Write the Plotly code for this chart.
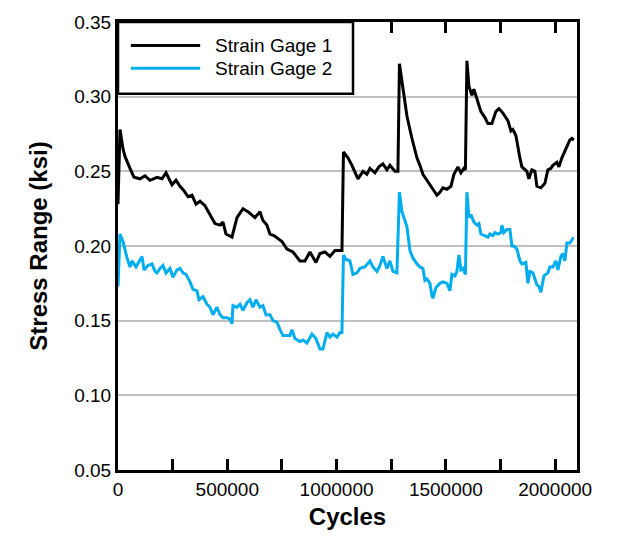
import plotly.graph_objects as go

# ---- data ----
cycles_g1 = [0, 9100, 22900, 32000, 54900, 73200, 100600, 123500, 146400, 178400,
             201300, 219600, 247000, 265300, 283600, 301900, 320200, 338500, 356800, 375100,
             397900, 420800, 443700, 466600, 480300, 494000, 521400, 544300, 571800, 594600,
             612900, 626600, 649500, 663200, 681100, 695200, 713500, 731800, 750100, 763900,
             773000, 800500, 832500, 855300, 878200, 905600, 923900, 946800, 969700, 992600,
             1024600, 1031500, 1052000, 1070300, 1097800, 1120600, 1138900, 1152600, 1175500, 1193800,
             1212100, 1230400, 1244100, 1267000, 1280700, 1287600, 1303600, 1321900, 1344800, 1367700,
             1381400, 1395100, 1413400, 1427100, 1440800, 1459100, 1472800, 1486600, 1504800, 1523100,
             1536900, 1555200, 1568900, 1582600, 1589500, 1596300, 1605500, 1619200, 1628300, 1646600,
             1660400, 1678700, 1692400, 1710700, 1729000, 1742700, 1761000, 1783900, 1797600, 1806700,
             1820400, 1838700, 1847900, 1870700, 1879900, 1893600, 1907300, 1916500, 1934800, 1953100,
             1966800, 1980500, 1989600, 2007900, 2017100, 2030800, 2049100, 2067400, 2076600, 2085700]
stress_g1 = [0.228, 0.278, 0.265, 0.260, 0.252, 0.246, 0.245, 0.247, 0.244, 0.246,
             0.245, 0.249, 0.241, 0.244, 0.240, 0.237, 0.233, 0.234, 0.228, 0.230,
             0.227, 0.221, 0.215, 0.214, 0.216, 0.208, 0.206, 0.219, 0.225, 0.223,
             0.221, 0.219, 0.223, 0.217, 0.214, 0.208, 0.207, 0.205, 0.203, 0.200,
             0.198, 0.196, 0.190, 0.190, 0.196, 0.189, 0.195, 0.196, 0.193, 0.197,
             0.197, 0.263, 0.259, 0.254, 0.245, 0.250, 0.248, 0.252, 0.249, 0.253,
             0.255, 0.251, 0.254, 0.250, 0.250, 0.322, 0.305, 0.287, 0.272, 0.259,
             0.254, 0.248, 0.244, 0.241, 0.238, 0.234, 0.236, 0.239, 0.238, 0.240,
             0.248, 0.253, 0.249, 0.252, 0.251, 0.324, 0.307, 0.301, 0.305, 0.296,
             0.290, 0.286, 0.282, 0.282, 0.290, 0.292, 0.289, 0.284, 0.277, 0.278,
             0.274, 0.259, 0.253, 0.250, 0.245, 0.251, 0.250, 0.240, 0.239, 0.242,
             0.251, 0.252, 0.254, 0.256, 0.253, 0.259, 0.265, 0.271, 0.272, 0.271]

cycles_g2 = [0, 9100, 22900, 41200, 54900, 64000, 82300, 96100, 109800, 118900,
             137200, 155500, 169200, 178400, 192100, 205800, 219600, 237800, 251600, 269900,
             283600, 297300, 311000, 329300, 343100, 361300, 370500, 388800, 407100, 420800,
             434500, 452800, 466600, 480300, 498600, 512300, 521400, 526000, 544300, 558000,
             571800, 590000, 603800, 617500, 631200, 649500, 663200, 677000, 695200, 708900,
             727300, 741000, 754700, 773000, 786700, 795900, 809600, 832500, 846200, 864500,
             887400, 905600, 923900, 937700, 956000, 969700, 983400, 1001700, 1015400, 1024600,
             1031500, 1042900, 1061200, 1074900, 1093200, 1106900, 1129800, 1152600, 1166400, 1184700,
             1198400, 1212100, 1230400, 1244100, 1257900, 1276100, 1287600, 1299000, 1312700, 1321900,
             1335600, 1349300, 1367700, 1381400, 1395100, 1404200, 1413400, 1427100, 1436200, 1440800,
             1454500, 1472800, 1486600, 1504800, 1518600, 1527700, 1541400, 1550600, 1559700, 1568900,
             1578000, 1589500, 1596300, 1605500, 1614600, 1628300, 1642100, 1651200, 1660400, 1678700,
             1692400, 1701500, 1715300, 1724400, 1738100, 1751800, 1756400, 1765600, 1779300, 1793000,
             1802200, 1811300, 1825000, 1838700, 1847900, 1866200, 1875300, 1884500, 1898200, 1916500,
             1925700, 1934800, 1948500, 1966800, 1976000, 1989600, 2003400, 2012600, 2026300, 2035400,
             2044600, 2053700, 2067400, 2081200, 2085700]
stress_g2 = [0.173, 0.208, 0.203, 0.192, 0.186, 0.190, 0.186, 0.190, 0.193, 0.184,
             0.187, 0.188, 0.183, 0.182, 0.185, 0.187, 0.182, 0.185, 0.179, 0.184,
             0.185, 0.182, 0.181, 0.176, 0.171, 0.170, 0.164, 0.166, 0.161, 0.159,
             0.154, 0.159, 0.154, 0.152, 0.152, 0.151, 0.148, 0.160, 0.159, 0.161,
             0.157, 0.162, 0.164, 0.159, 0.164, 0.159, 0.160, 0.154, 0.154, 0.150,
             0.149, 0.144, 0.140, 0.140, 0.140, 0.144, 0.138, 0.136, 0.137, 0.135,
             0.141, 0.138, 0.131, 0.131, 0.142, 0.139, 0.141, 0.139, 0.142, 0.142,
             0.194, 0.191, 0.190, 0.181, 0.182, 0.185, 0.186, 0.190, 0.186, 0.183,
             0.187, 0.193, 0.185, 0.190, 0.183, 0.182, 0.236, 0.223, 0.216, 0.213,
             0.197, 0.192, 0.188, 0.186, 0.185, 0.177, 0.178, 0.175, 0.167, 0.165,
             0.172, 0.175, 0.176, 0.175, 0.170, 0.181, 0.180, 0.183, 0.194, 0.184,
             0.185, 0.181, 0.236, 0.219, 0.221, 0.216, 0.214, 0.215, 0.208, 0.207,
             0.206, 0.208, 0.207, 0.209, 0.208, 0.209, 0.214, 0.209, 0.211, 0.211,
             0.200, 0.200, 0.198, 0.190, 0.188, 0.189, 0.175, 0.183, 0.182, 0.174,
             0.173, 0.169, 0.180, 0.182, 0.186, 0.186, 0.190, 0.184, 0.193, 0.195,
             0.190, 0.202, 0.202, 0.205, 0.205]

series_names = ["Strain Gage 1", "Strain Gage 2"]
series_colors = ["#000000", "#00AEEF"]

x_tick_vals = [0, 250000, 500000, 750000, 1000000, 1250000, 1500000, 1750000, 2000000]
x_tick_text = ["0", "", "500000", "", "1000000", "", "1500000", "", "2000000"]
y_tick_vals = [0.05, 0.10, 0.15, 0.20, 0.25, 0.30, 0.35]

FONT = "Liberation Sans, Arial, sans-serif"

fig = go.Figure()
fig.add_trace(go.Scatter(x=cycles_g1, y=stress_g1, mode="lines", name=series_names[0],
                         line=dict(color=series_colors[0], width=3)))
fig.add_trace(go.Scatter(x=cycles_g2, y=stress_g2, mode="lines", name=series_names[1],
                         line=dict(color=series_colors[1], width=3)))

fig.update_layout(
    width=620, height=539,
    margin=dict(l=118, r=43, t=14, b=68),
    paper_bgcolor="white", plot_bgcolor="white",
    showlegend=False,
    font=dict(family=FONT, size=19, color="black"),
    xaxis=dict(
        range=[0, 2100000],
        tickmode="array", tickvals=x_tick_vals, ticktext=x_tick_text,
        ticks="inside", ticklen=11, tickwidth=2.5, tickcolor="black",
        showline=True, linecolor="black", linewidth=3, mirror="ticks",
        showgrid=False, zeroline=False,
        tickfont=dict(size=19),
        title=dict(text="<b>Cycles</b>", font=dict(size=24), standoff=10),
    ),
    yaxis=dict(
        range=[0.05, 0.35],
        tickmode="array", tickvals=y_tick_vals, tickformat=".2f",
        ticks="", showline=True, linecolor="black", linewidth=3, mirror=True,
        showgrid=True, gridcolor="#C0C0C0", gridwidth=2, zeroline=False,
        tickfont=dict(size=19),
        title=dict(text="<b>Stress Range (ksi)</b>", font=dict(size=24), standoff=20),
    ),
)

# Legend box drawn in the top-left corner of the plot area
fig.add_shape(type="rect", xref="paper", yref="paper", x0=0, x1=0.512, y0=0.840, y1=1.0,
              line=dict(color="black", width=2.5), fillcolor="white", layer="above")
leg_y = [0.9475, 0.8965]
for name, color, ly in zip(series_names, series_colors, leg_y):
    fig.add_shape(type="line", xref="paper", yref="paper", x0=0.028, x1=0.179, y0=ly, y1=ly,
                  line=dict(color=color, width=3), layer="above")
    fig.add_annotation(xref="paper", yref="paper", x=0.207, y=ly, text=name, showarrow=False,
                       xanchor="left", yanchor="middle", font=dict(size=19, color="black"))

fig.write_html("out.html")
